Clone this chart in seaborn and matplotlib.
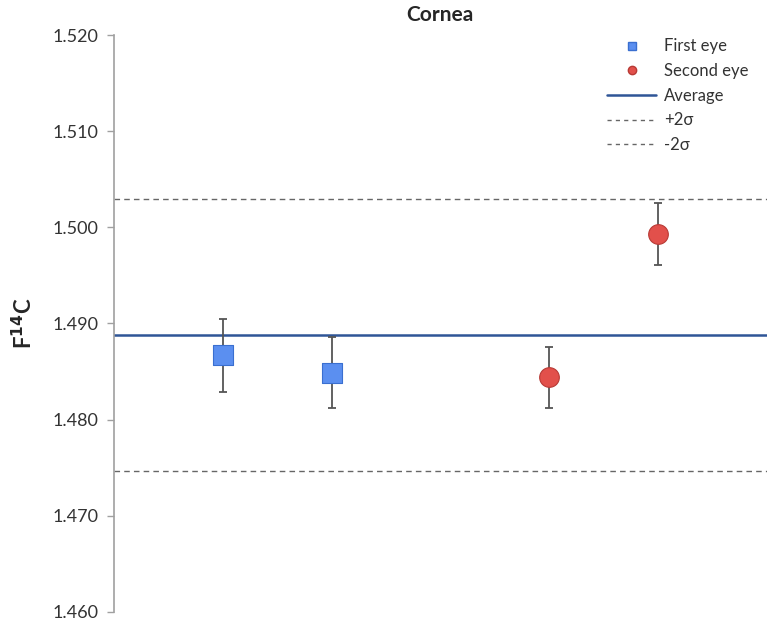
import pandas as pd
import seaborn as sns
import matplotlib.pyplot as plt
from matplotlib.lines import Line2D

# data
sample_pos = [1, 2, 4, 5]
f14c = [1.4867, 1.4849, 1.4844, 1.4993]
f14c_err = [0.0038, 0.0037, 0.0032, 0.0032]
eye = ['First eye', 'First eye', 'Second eye', 'Second eye']
average = 1.4888
sigma2 = 0.0141

data = pd.DataFrame({'pos': sample_pos, 'F14C': f14c, 'err': f14c_err, 'Eye': eye})

sns.set_style('white')
plt.rcParams['font.family'] = ['Lato', 'DejaVu Sans']

fig = plt.figure(figsize=(7.68, 6.23), dpi=100)
ax = fig.add_axes([0.1484, 0.0177, 0.85, 0.9261])

# reference lines
ax.axhline(average, color='#2f5597', lw=1.8, zorder=1)
ax.axhline(average + sigma2, color='#666666', lw=1.0, ls=(0, (4, 3)), zorder=1)
ax.axhline(average - sigma2, color='#666666', lw=1.0, ls=(0, (4, 3)), zorder=1)

# error bars
ax.errorbar(data['pos'], data['F14C'], yerr=data['err'], fmt='none',
            ecolor='#555555', elinewidth=1.3, capsize=3, capthick=1.3, zorder=2)

palette = {'First eye': '#5b8ff0', 'Second eye': '#e2504b'}
markers = {'First eye': 's', 'Second eye': 'o'}
edges = {'First eye': '#3a6fd0', 'Second eye': '#b83a35'}
for name, grp in data.groupby('Eye'):
    sns.scatterplot(x='pos', y='F14C', data=grp, ax=ax, marker=markers[name],
                    color=palette[name], edgecolor=edges[name], linewidth=0.8,
                    s=200, zorder=3, legend=False)

ax.set_xlim(0, 6)
ax.set_ylim(1.460, 1.520)
ax.set_yticks([1.460, 1.470, 1.480, 1.490, 1.500, 1.510, 1.520])
ax.set_yticklabels(['1.460', '1.470', '1.480', '1.490', '1.500', '1.510', '1.520'])
ax.set_xticks([])
ax.set_xlabel('')
ax.set_ylabel('F$^{\\mathbf{14}}$C', fontsize=16, fontweight='bold', labelpad=12)
ax.set_title('Cornea', fontsize=15, fontweight='bold', pad=10)

for s in ['top', 'right', 'bottom']:
    ax.spines[s].set_visible(False)
ax.spines['left'].set_color('#a0a0a0')
ax.spines['left'].set_linewidth(1.2)
ax.tick_params(axis='y', direction='out', length=5, width=1, color='#a0a0a0',
               labelsize=13, labelcolor='#333333', left=True, pad=6)

handles = [
    Line2D([], [], ls='none', marker='s', color='#5b8ff0', markeredgecolor='#3a6fd0', markersize=6),
    Line2D([], [], ls='none', marker='o', color='#e2504b', markeredgecolor='#b83a35', markersize=6),
    Line2D([], [], color='#2f5597', lw=1.8),
    Line2D([], [], color='#666666', lw=1.0, ls=(0, (3, 3))),
    Line2D([], [], color='#666666', lw=1.0, ls=(0, (3, 3))),
]
labels = ['First eye', 'Second eye', 'Average', '+2\u03c3', '-2\u03c3']
ax.legend(handles, labels, loc='upper right', bbox_to_anchor=(0.995, 1.02), frameon=False,
          fontsize=12, handlelength=2.9, labelspacing=0.52, handletextpad=0.5,
          labelcolor='#333333')

fig.savefig('out.png', dpi=100)
